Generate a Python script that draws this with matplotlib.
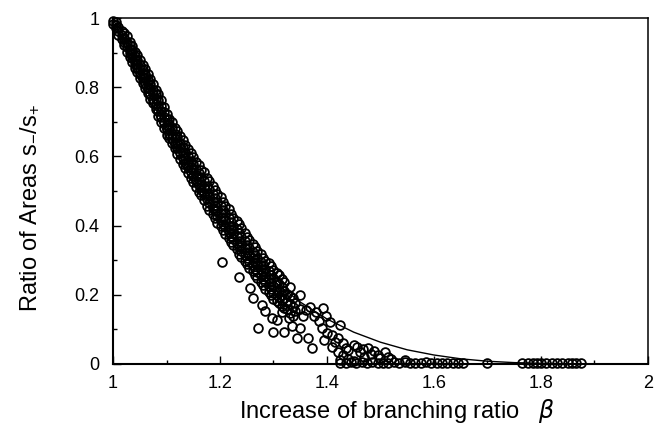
import numpy as np
import matplotlib
matplotlib.use("Agg")
import matplotlib.pyplot as plt
from matplotlib.ticker import MultipleLocator, FormatStrFormatter

# ---- data ----
# dense band: (beta, [ratios at that beta])
band_columns = [
    (1.000, [0.99, 0.982]),
    (1.005, [0.972, 0.98, 0.988]),
    (1.010, [0.952, 0.962, 0.973]),
    (1.016, [0.94, 0.95, 0.962]),
    (1.021, [0.922, 0.932, 0.942, 0.957]),
    (1.026, [0.903, 0.915, 0.927, 0.947]),
    (1.031, [0.887, 0.898, 0.91, 0.922, 0.932]),
    (1.035, [0.873, 0.885, 0.896, 0.907, 0.92]),
    (1.041, [0.856, 0.868, 0.88, 0.891, 0.903]),
    (1.045, [0.843, 0.855, 0.866, 0.878, 0.893]),
    (1.050, [0.826, 0.839, 0.852, 0.864, 0.878]),
    (1.056, [0.813, 0.826, 0.838, 0.85, 0.864]),
    (1.060, [0.798, 0.812, 0.826, 0.838, 0.852]),
    (1.066, [0.784, 0.797, 0.81, 0.822, 0.837]),
    (1.070, [0.766, 0.781, 0.795, 0.808, 0.824]),
    (1.075, [0.753, 0.767, 0.78, 0.793, 0.808]),
    (1.081, [0.736, 0.751, 0.766, 0.779, 0.792]),
    (1.085, [0.718, 0.732, 0.745, 0.762, 0.779]),
    (1.090, [0.698, 0.714, 0.73, 0.746, 0.764]),
    (1.096, [0.683, 0.699, 0.715, 0.728, 0.744]),
    (1.100, [0.663, 0.678, 0.692, 0.707, 0.724]),
    (1.105, [0.652, 0.666, 0.68, 0.693, 0.708]),
    (1.111, [0.638, 0.652, 0.666, 0.681, 0.699]),
    (1.115, [0.623, 0.637, 0.652, 0.666, 0.682]),
    (1.120, [0.608, 0.624, 0.64, 0.656, 0.674]),
    (1.126, [0.593, 0.609, 0.625, 0.64, 0.658]),
    (1.130, [0.578, 0.594, 0.61, 0.628, 0.648]),
    (1.135, [0.566, 0.581, 0.596, 0.614, 0.634]),
    (1.141, [0.553, 0.569, 0.585, 0.602, 0.622]),
    (1.145, [0.538, 0.554, 0.57, 0.588, 0.609]),
    (1.150, [0.526, 0.543, 0.56, 0.578, 0.598]),
    (1.156, [0.513, 0.529, 0.545, 0.563, 0.584]),
    (1.160, [0.498, 0.516, 0.535, 0.553, 0.574]),
    (1.165, [0.488, 0.504, 0.52, 0.54, 0.562]),
    (1.171, [0.473, 0.491, 0.51, 0.53, 0.554]),
    (1.175, [0.458, 0.476, 0.495, 0.515, 0.537]),
    (1.180, [0.446, 0.465, 0.485, 0.505, 0.529]),
    (1.186, [0.433, 0.451, 0.47, 0.49, 0.514]),
    (1.190, [0.422, 0.441, 0.46, 0.48, 0.502]),
    (1.195, [0.408, 0.427, 0.446, 0.468, 0.492]),
    (1.201, [0.398, 0.416, 0.435, 0.458, 0.484]),
    (1.205, [0.388, 0.406, 0.425, 0.445, 0.468]),
    (1.210, [0.376, 0.395, 0.415, 0.435, 0.458]),
    (1.216, [0.363, 0.381, 0.40, 0.423, 0.448]),
    (1.220, [0.353, 0.371, 0.39, 0.41, 0.434]),
    (1.225, [0.343, 0.361, 0.38, 0.4, 0.422]),
    (1.231, [0.332, 0.351, 0.37, 0.39, 0.412]),
    (1.235, [0.318, 0.337, 0.356, 0.379, 0.404]),
    (1.240, [0.308, 0.326, 0.345, 0.367, 0.392]),
    (1.246, [0.298, 0.316, 0.335, 0.355, 0.378]),
    (1.250, [0.288, 0.306, 0.325, 0.345, 0.368]),
    (1.255, [0.278, 0.296, 0.315, 0.335, 0.358]),
    (1.261, [0.268, 0.286, 0.305, 0.325, 0.348]),
    (1.265, [0.258, 0.276, 0.295, 0.315, 0.338]),
    (1.270, [0.248, 0.266, 0.285, 0.305, 0.328]),
    (1.276, [0.238, 0.256, 0.275, 0.295, 0.318]),
    (1.280, [0.228, 0.246, 0.265, 0.285, 0.307]),
    (1.285, [0.218, 0.236, 0.255, 0.275, 0.298]),
    (1.291, [0.208, 0.226, 0.245, 0.268, 0.292]),
    (1.295, [0.198, 0.216, 0.236, 0.258, 0.282]),
    (1.300, [0.188, 0.206, 0.225, 0.248, 0.272]),
    (1.306, [0.183, 0.199, 0.215, 0.238, 0.262]),
    (1.310, [0.176, 0.193, 0.21, 0.232, 0.256]),
    (1.316, [0.168, 0.184, 0.20, 0.222, 0.247]),
    (1.320, [0.163, 0.19, 0.212, 0.236]),
    (1.326, [0.158, 0.18, 0.202]),
    (1.331, [0.148, 0.172, 0.196, 0.222]),
    (1.336, [0.14, 0.165, 0.19]),
    (1.341, [0.152, 0.176]),
    (1.350, [0.16, 0.198]),
]

# loose points below the band
scatter_beta = [1.204, 1.236, 1.256, 1.271, 1.284, 1.262, 1.278, 1.297, 1.300,
                1.306, 1.320, 1.329, 1.315, 1.335, 1.344, 1.355, 1.350, 1.365,
                1.372, 1.360, 1.368, 1.375, 1.380, 1.385, 1.393, 1.398, 1.405,
                1.390, 1.400, 1.395, 1.410, 1.415, 1.420, 1.425, 1.430, 1.435,
                1.410, 1.420, 1.430, 1.440, 1.450, 1.456, 1.462, 1.468, 1.476,
                1.482, 1.488, 1.470, 1.495, 1.508, 1.515, 1.440, 1.450, 1.425,
                1.520, 1.545, 1.500]
scatter_ratio = [0.295, 0.251, 0.220, 0.104, 0.153, 0.190, 0.170, 0.133, 0.092,
                 0.127, 0.092, 0.133, 0.150, 0.110, 0.075, 0.139, 0.105, 0.075,
                 0.046, 0.155, 0.165, 0.140, 0.150, 0.125, 0.162, 0.140, 0.120,
                 0.105, 0.090, 0.070, 0.085, 0.065, 0.075, 0.113, 0.060, 0.045,
                 0.050, 0.035, 0.025, 0.040, 0.055, 0.048, 0.035, 0.042, 0.045,
                 0.030, 0.038, 0.020, 0.025, 0.035, 0.020, 0.015, 0.010, 0.012,
                 0.015, 0.012, 0.018]

# points sitting on the axis
tail_beta = [1.425, 1.435, 1.445, 1.455, 1.465, 1.475, 1.485, 1.495, 1.505,
             1.515, 1.525, 1.535, 1.545, 1.555, 1.565, 1.575, 1.585, 1.595,
             1.605, 1.615, 1.625, 1.635, 1.645, 1.655, 1.700, 1.765, 1.775,
             1.785, 1.792, 1.800, 1.810, 1.820, 1.830, 1.840, 1.850, 1.858,
             1.866, 1.875]
tail_ratio = [0.004, 0.002, 0.006, 0.003, 0.005, 0.002, 0.006, 0.003, 0.004,
              0.002, 0.005, 0.003, 0.006, 0.002, 0.004, 0.003, 0.005, 0.002,
              0.004, 0.003, 0.002, 0.004, 0.003, 0.002, 0.002, 0.002, 0.003,
              0.002, 0.003, 0.002, 0.003, 0.002, 0.003, 0.002, 0.003, 0.002,
              0.002, 0.002]

# solid reference curve
curve_beta = [1.00, 1.05, 1.10, 1.15, 1.20, 1.25, 1.30, 1.35, 1.40, 1.45, 1.50,
              1.55, 1.60, 1.65, 1.70, 1.75, 1.80, 1.85, 1.90, 1.95, 2.00]
curve_ratio = [1.000, 0.815, 0.656, 0.522, 0.410, 0.316, 0.240, 0.179, 0.130,
               0.092, 0.063, 0.041, 0.026, 0.015, 0.008, 0.004, 0.002, 0.0005,
               0.0, 0.0, 0.0]

band_beta = [b for b, ys in band_columns for _ in ys]
band_ratio = [y for _, ys in band_columns for y in ys]

all_beta = np.array(band_beta + scatter_beta + tail_beta)
all_ratio = np.array(band_ratio + scatter_ratio + tail_ratio)

plt.rcParams['font.family'] = ['Liberation Sans', 'DejaVu Sans']

fig = plt.figure(figsize=(6.7, 4.34), dpi=100)
ax = fig.add_axes([0.1687, 0.1613, 0.7983, 0.7972])

ax.plot(curve_beta, curve_ratio, color='k', lw=1.0, zorder=2)
ax.plot(all_beta, all_ratio, 'o', mfc='none', mec='k', ms=6.3, mew=1.3,
        clip_on=False, zorder=3)

ax.set_xlim(1, 2)
ax.set_ylim(0, 1)

ax.xaxis.set_major_locator(MultipleLocator(0.2))
ax.xaxis.set_minor_locator(MultipleLocator(0.1))
ax.yaxis.set_major_locator(MultipleLocator(0.2))
ax.yaxis.set_minor_locator(MultipleLocator(0.1))
ax.xaxis.set_major_formatter(FormatStrFormatter('%g'))
ax.yaxis.set_major_formatter(FormatStrFormatter('%g'))

ax.tick_params(which='both', direction='in', top=False, right=False,
               labelsize=13, width=1.0)
ax.tick_params(which='major', length=6)
ax.tick_params(which='minor', length=3)
ax.tick_params(axis='x', pad=8)
ax.tick_params(axis='y', pad=10)

for side in ['left', 'bottom']:
    ax.spines[side].set_linewidth(1.5)
for side in ['top', 'right']:
    ax.spines[side].set_linewidth(1.1)

ax.set_xlabel(r'Increase of branching ratio   $\beta$', fontsize=17)
ax.set_ylabel(r'Ratio of Areas $\mathregular{s_{-}/s_{+}}$', fontsize=17)
ax.xaxis.set_label_coords(0.53, -0.095)
ax.yaxis.set_label_coords(-0.135, 0.45)

fig.savefig('out.png', dpi=100)
